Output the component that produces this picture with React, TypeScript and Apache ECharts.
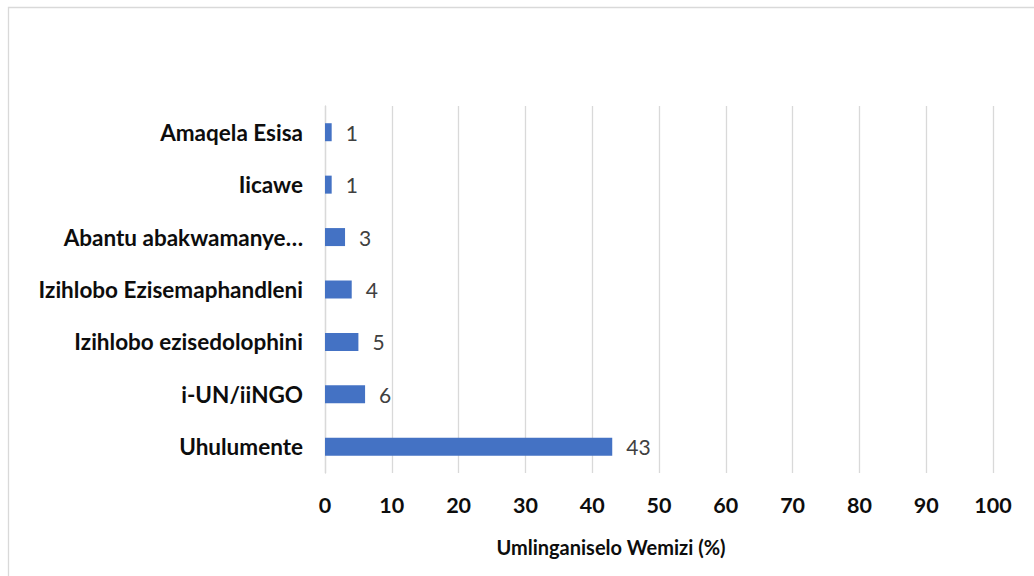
import React, { useEffect, useRef } from "react";
import * as echarts from "echarts";

// Categories listed from bottom to top
const categories = [
  "Uhulumente",
  "i-UN/iiNGO",
  "Izihlobo ezisedolophini",
  "Izihlobo Ezisemaphandleni",
  "Abantu abakwamanye…",
  "Iicawe",
  "Amaqela Esisa",
];
const values = [43, 6, 5, 4, 3, 1, 1];
const xTicks = [0, 100, 10]; // min, max, interval
const axisTitle = "Umlinganiselo Wemizi (%)";

const FONT = "Lato, 'Open Sans', sans-serif";

export default function App() {
  const ref = useRef<HTMLDivElement>(null);

  useEffect(() => {
    if (!ref.current) return;
    const chart = echarts.init(ref.current, undefined, { renderer: "svg" });
    chart.setOption({
      animation: false,
      backgroundColor: "#ffffff",
      grid: { left: 325, right: 41, top: 106, bottom: 103, containLabel: false },
      xAxis: {
        type: "value",
        min: xTicks[0],
        max: xTicks[1],
        interval: xTicks[2],
        axisLine: { show: false },
        axisTick: { show: false },
        splitLine: { show: true, lineStyle: { color: "#d9d9d9", width: 1.3 } },
        axisLabel: {
          margin: 21,
          color: "#0d0d0d",
          fontFamily: FONT,
          fontWeight: "bold",
          fontSize: 21.5,
        },
      },
      yAxis: {
        type: "category",
        data: categories,
        axisLine: { show: true, lineStyle: { color: "#d9d9d9", width: 1.3 } },
        axisTick: { show: false },
        axisLabel: {
          margin: 22,
          color: "#0d0d0d",
          fontFamily: FONT,
          fontWeight: "bold",
          fontSize: 22.5,
        },
      },
      series: [
        {
          type: "bar",
          data: values,
          barWidth: 18,
          itemStyle: { color: "#4472c4" },
          label: {
            show: true,
            position: "right",
            distance: 14,
            color: "#404040",
            fontFamily: FONT,
            fontSize: 21,
          },
        },
      ],
      graphic: [
        {
          type: "rect",
          shape: { x: 8.5, y: 7.5, width: 1040, height: 600 },
          style: { fill: "none", stroke: "#d9d9d9", lineWidth: 1.3 },
          silent: true,
        },
        {
          type: "text",
          x: 611,
          y: 547,
          style: {
            text: axisTitle,
            fill: "#0d0d0d",
            font: `bold 20px ${FONT}`,
            textAlign: "center",
            textVerticalAlign: "middle",
          },
        },
      ],
    });
    return () => chart.dispose();
  }, []);

  return (
    <div
      ref={ref}
      style={{ position: "fixed", left: 0, top: 0, width: 1034, height: 576 }}
    />
  );
}
